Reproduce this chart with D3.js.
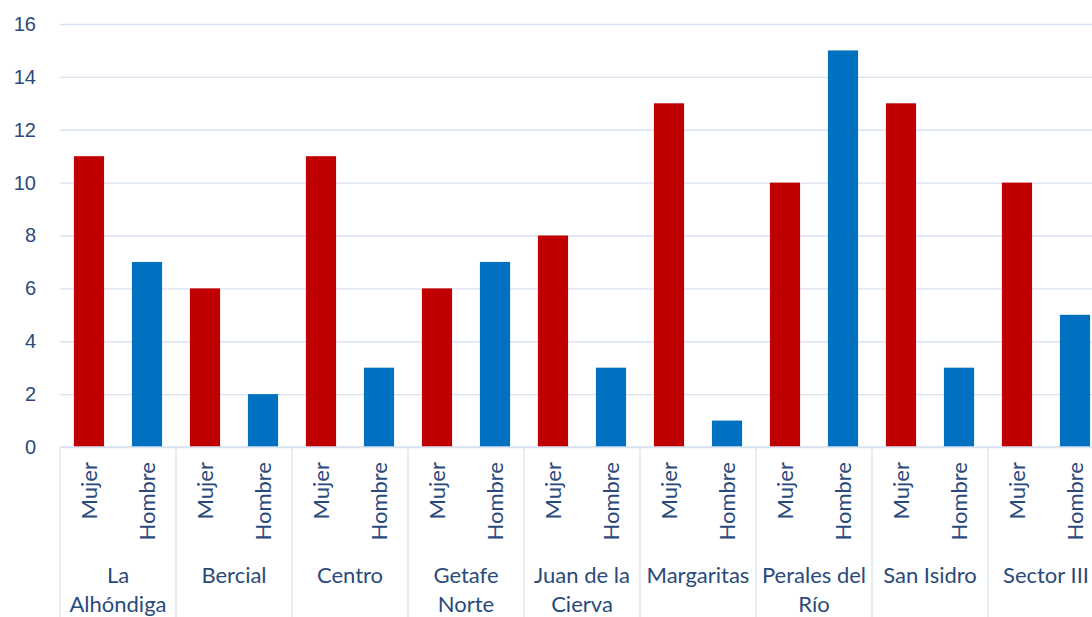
<!DOCTYPE html>
<html lang="es">
<head>
<meta charset="utf-8">
<style>
  body { margin: 0; background: #fff; }
  svg { display: block; font-family: Lato, "Open Sans", sans-serif; }
  .grid line { stroke: #d9e2f1; stroke-width: 1.3px; }
  .tick text { fill: #2a4a7b; font-size: 20px; }
  .lbl { fill: #2a4a7b; font-size: 22px; }
  .sep { stroke: #d9e2f1; stroke-width: 1.3px; }
</style>
<script src="https://d3js.org/d3.v7.min.js"></script>
</head>
<body>
<script>
var width = 1092, height = 617;

// data
var barrios = [["La", "Alhóndiga"], ["Bercial"], ["Centro"], ["Getafe", "Norte"], ["Juan de la", "Cierva"],
               ["Margaritas"], ["Perales del", "Río"], ["San Isidro"], ["Sector III"]];
var sexos = ["Mujer", "Hombre"];
var mujer = [11, 6, 11, 6, 8, 13, 10, 13, 10];
var hombre = [7, 2, 3, 7, 3, 1, 15, 3, 5];
var yTicks = [0, 2, 4, 6, 8, 10, 12, 14, 16];
var colors = { Mujer: "#c00000", Hombre: "#0070c0" };

var mLeft = 60, groupW = 116, mTop = 24, axisY = 447;

var svg = d3.select("body").append("svg")
    .attr("width", width)
    .attr("height", height);

var x0 = d3.scaleBand()
    .domain(d3.range(barrios.length))
    .range([mLeft, mLeft + groupW * barrios.length])
    .padding(0);

var x1 = d3.scaleBand()
    .domain(sexos)
    .range([0, groupW])
    .paddingInner(0.48)
    .paddingOuter(0.24);

var y = d3.scaleLinear().domain([0, 16]).range([axisY, mTop]);

// gridlines + y labels
var yAxis = svg.append("g")
    .attr("class", "grid")
    .attr("transform", "translate(" + mLeft + ",0)")
    .call(d3.axisLeft(y).tickValues(yTicks).tickSize(-(width - mLeft)).tickPadding(24));
yAxis.select(".domain").remove();

// bars
var rows = d3.range(barrios.length).map(function(i) {
    return [{ s: "Mujer", v: mujer[i] }, { s: "Hombre", v: hombre[i] }];
});

var groups = svg.append("g").selectAll("g")
    .data(rows)
    .enter().append("g")
    .attr("transform", function(d, i) { return "translate(" + x0(i) + ",0)"; });

groups.selectAll("rect")
    .data(function(d) { return d; })
    .enter().append("rect")
    .attr("x", function(d) { return x1(d.s); })
    .attr("y", function(d) { return y(d.v); })
    .attr("width", x1.bandwidth())
    .attr("height", function(d) { return axisY - y(d.v); })
    .attr("fill", function(d) { return colors[d.s]; });

// axis baseline
svg.append("line").attr("class", "sep")
    .attr("x1", mLeft).attr("x2", width)
    .attr("y1", axisY).attr("y2", axisY);

// separators between groups
svg.append("g").selectAll("line")
    .data(d3.range(barrios.length + 1))
    .enter().append("line")
    .attr("class", "sep")
    .attr("x1", function(i) { return mLeft + groupW * i; })
    .attr("x2", function(i) { return mLeft + groupW * i; })
    .attr("y1", axisY).attr("y2", height);

// rotated sex labels
groups.selectAll("text.sx")
    .data(function(d) { return d; })
    .enter().append("text")
    .attr("class", "lbl sx")
    .attr("text-anchor", "end")
    .attr("transform", function(d) {
        return "translate(" + (x1(d.s) + x1.bandwidth() / 2 + 8) + "," + (axisY + 15) + ") rotate(-90)";
    })
    .text(function(d) { return d.s; });

// barrio labels
groups.append("text")
    .attr("class", "lbl")
    .attr("text-anchor", "middle")
    .attr("x", groupW / 2)
    .attr("y", 583)
    .selectAll("tspan")
    .data(function(d, i) { return barrios[i]; })
    .enter().append("tspan")
    .attr("x", groupW / 2)
    .attr("dy", function(d, j) { return j === 0 ? 0 : 29; })
    .text(function(d) { return d; });
</script>
</body>
</html>
